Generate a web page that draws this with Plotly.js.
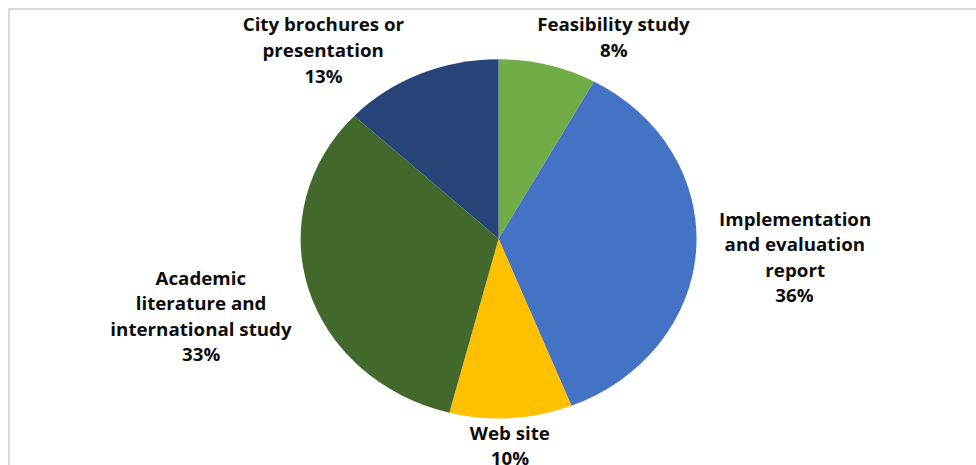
<!DOCTYPE html>
<html>
<head>
<meta charset="utf-8">
<script src="https://cdn.plot.ly/plotly-3.0.1.min.js"></script>
<style>
  html, body { margin:0; padding:0; width:976px; height:465px; overflow:hidden; background:#fff; }
  #frame { position:absolute; left:8px; top:8px; width:1200px; height:1200px; border:2px solid #d9d9d9; box-sizing:border-box; }
  #wrap { position:absolute; left:0; top:0; width:885px; height:465px; transform:scaleX(1.1028); transform-origin:0 0; }
</style>
</head>
<body>
<div id="frame"></div>
<div id="wrap"><div id="chart" style="width:885px;height:465px;"></div></div>
<script>
// Data
const categories = ["Feasibility study", "Implementation and evaluation report", "Web site", "Academic literature and international study", "City brochures or presentation"];
const labelLines = [
  ["Feasibility study"],
  ["Implementation", "and evaluation", "report"],
  ["Web site"],
  ["Academic", "literature and", "international study"],
  ["City brochures or", "presentation"]
];
const values = [8, 36, 10, 33, 13];
const colors = ["#70AD47", "#4472C4", "#FFC000", "#43682B", "#264478"];

// Label placement (layout, pixels in unstretched plot space)
const W = 885, H = 465;
const labelX = [556.7, 720.8, 462.4, 182.2, 293.3];
const labelTopY = [25, 219, 433, 278, 25];
const lineStep = 25.5;

const total = values.reduce((a, b) => a + b, 0);
const annotations = [];
categories.forEach((c, i) => {
  const lines = labelLines[i].concat([Math.round(values[i] / total * 100) + "%"]);
  lines.forEach((t, j) => {
    annotations.push({
      text: "<b>" + t + "</b>",
      x: labelX[i] / W, y: 1 - (labelTopY[i] + j * lineStep) / H,
      xref: "paper", yref: "paper", xanchor: "center", yanchor: "middle",
      showarrow: false,
      font: { family: "'Open Sans', sans-serif", size: 17, color: "#0d0d0d" }
    });
  });
});

const cx = 452.1, cy = 238.8, r = 179.5;
const trace = {
  type: "pie",
  labels: categories,
  values: values,
  marker: { colors: colors, line: { color: "rgba(0,0,0,0)", width: 0 } },
  sort: false,
  direction: "clockwise",
  rotation: 0,
  textinfo: "none",
  hoverinfo: "label+percent",
  domain: { x: [(cx - r) / W, (cx + r) / W], y: [1 - (cy + r) / H, 1 - (cy - r) / H] }
};

const layout = {
  width: W, height: H,
  margin: { l: 0, r: 0, t: 0, b: 0 },
  showlegend: false,
  paper_bgcolor: "rgba(0,0,0,0)",
  plot_bgcolor: "rgba(0,0,0,0)",
  annotations: annotations
};

Plotly.newPlot("chart", [trace], layout, { displayModeBar: false, staticPlot: true });
</script>
</body>
</html>
